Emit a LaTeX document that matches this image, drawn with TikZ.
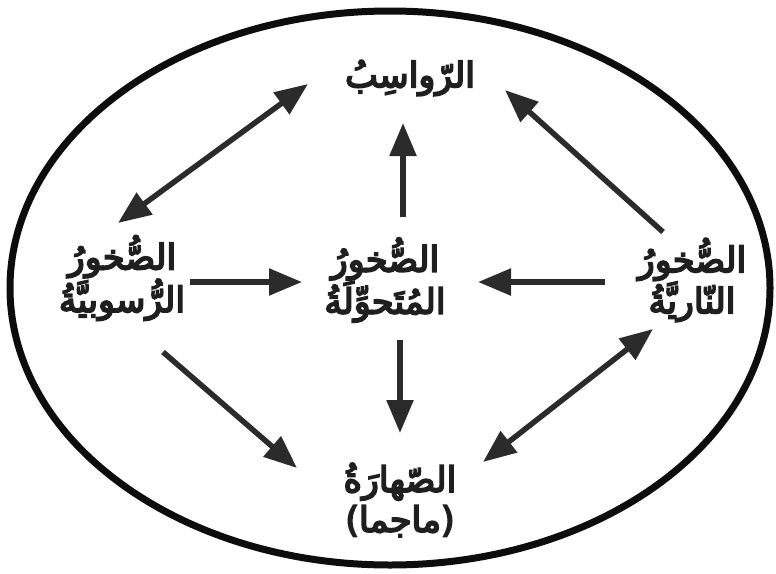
\documentclass[tikz,border=0pt]{standalone}
\usepackage{fontspec}
\newfontfamily\arabicfont[Script=Arabic,FakeBold=5]{DejaVu Sans}
\TeXXeTstate=1
\usetikzlibrary{arrows.meta}
\tikzset{
  lbl/.style={font=\arabicfont\fontsize{35}{40}\selectfont, text=black!88, align=center, inner sep=0pt},
  arr/.style={line width=5.5pt, draw=black!83, -{Triangle[length=33pt,width=26pt]}},
  darr/.style={line width=5.5pt, draw=black!83, {Triangle[length=33pt,width=26pt]}-{Triangle[length=33pt,width=26pt]}}
}
\begin{document}
\begin{tikzpicture}[x=1pt,y=-1pt]
\useasboundingbox (0,0) rectangle (776,573);
\draw[line width=7pt, draw=black!95] (390,288) ellipse [x radius=380, y radius=277];
% labels
\node[lbl] (top) at (410,78) {\beginR الرّواسِبُ\endR};
\node[lbl] (left) at (122,278) {\beginR الصُّخورُ\endR\\\beginR الرُّسوبيَّةُ\endR};
\node[lbl] (mid) at (385,280) {\beginR الصُّخورُ\endR\\\beginR المُتَحوِّلَةُ\endR};
\node[lbl] (right) at (692,280) {\beginR الصُّخورُ\endR\\\beginR النّاريَّةُ\endR};
\node[lbl] (bot) at (400,500) {\beginR الصّهارَةُ\endR\\\beginR(ماجما)\endR};
% arrow end points
\coordinate (lt1) at (118,223); \coordinate (lt2) at (308,84);
\coordinate (mt1) at (403,217); \coordinate (mt2) at (403,123);
\coordinate (rt1) at (663,232); \coordinate (rt2) at (505,90);
\coordinate (lm1) at (190,282); \coordinate (lm2) at (302,282);
\coordinate (rm1) at (605,282); \coordinate (rm2) at (478,282);
\coordinate (mb1) at (400,340); \coordinate (mb2) at (400,433);
\coordinate (lb1) at (163,352); \coordinate (lb2) at (297,468);
\coordinate (rb1) at (653,329); \coordinate (rb2) at (483,462);
% connectors
\draw[darr] (lt1) -- (lt2);
\draw[arr] (mt1) -- (mt2);
\draw[arr] (rt1) -- (rt2);
\draw[arr] (lm1) -- (lm2);
\draw[arr] (rm1) -- (rm2);
\draw[arr] (mb1) -- (mb2);
\draw[arr] (lb1) -- (lb2);
\draw[darr] (rb2) -- (rb1);
\end{tikzpicture}
\end{document}
